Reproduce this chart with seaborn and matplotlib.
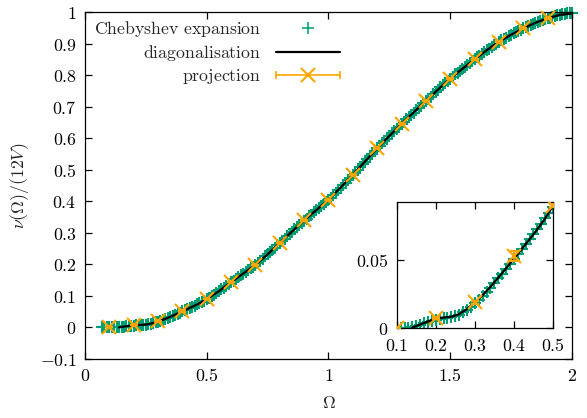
import numpy as np
import matplotlib
matplotlib.use("Agg")
import matplotlib.pyplot as plt
import seaborn as sns
from matplotlib.lines import Line2D
from matplotlib.legend_handler import HandlerLine2D, HandlerTuple

# ---- data ----
# Chebyshev expansion, sampled every 0.01
cheb_x = [0.07, 0.08, 0.09, 0.10, 0.11, 0.12, 0.13, 0.14, 0.15, 0.16, 0.17, 0.18, 0.19,
          0.20, 0.21, 0.22, 0.23, 0.24, 0.25, 0.26, 0.27, 0.28, 0.29, 0.30, 0.31, 0.32,
          0.33, 0.34, 0.35, 0.36, 0.37, 0.38, 0.39, 0.40, 0.41, 0.42, 0.43, 0.44, 0.45,
          0.46, 0.47, 0.48, 0.49, 0.50,
          0.51, 0.52, 0.53, 0.54, 0.55, 0.56, 0.57, 0.58, 0.59, 0.60,
          0.61, 0.62, 0.63, 0.64, 0.65, 0.66, 0.67, 0.68, 0.69, 0.70,
          0.71, 0.72, 0.73, 0.74, 0.75, 0.76, 0.77, 0.78, 0.79, 0.80,
          0.81, 0.82, 0.83, 0.84, 0.85, 0.86, 0.87, 0.88, 0.89, 0.90,
          0.91, 0.92, 0.93, 0.94, 0.95, 0.96, 0.97, 0.98, 0.99, 1.00,
          1.01, 1.02, 1.03, 1.04, 1.05, 1.06, 1.07, 1.08, 1.09, 1.10,
          1.11, 1.12, 1.13, 1.14, 1.15, 1.16, 1.17, 1.18, 1.19, 1.20,
          1.21, 1.22, 1.23, 1.24, 1.25, 1.26, 1.27, 1.28, 1.29, 1.30,
          1.31, 1.32, 1.33, 1.34, 1.35, 1.36, 1.37, 1.38, 1.39, 1.40,
          1.41, 1.42, 1.43, 1.44, 1.45, 1.46, 1.47, 1.48, 1.49, 1.50,
          1.51, 1.52, 1.53, 1.54, 1.55, 1.56, 1.57, 1.58, 1.59, 1.60,
          1.61, 1.62, 1.63, 1.64, 1.65, 1.66, 1.67, 1.68, 1.69, 1.70,
          1.71, 1.72, 1.73, 1.74, 1.75, 1.76, 1.77, 1.78, 1.79, 1.80,
          1.81, 1.82, 1.83, 1.84, 1.85, 1.86, 1.87, 1.88, 1.89, 1.90,
          1.91, 1.92, 1.93, 1.94, 1.95, 1.96, 1.97, 1.98, 1.99, 2.00]
cheb_y = [0.000, 0.000, 0.000, 0.000, 0.000, 0.0002, 0.0005, 0.001, 0.0018, 0.0027,
          0.0036, 0.0045, 0.0054, 0.0062, 0.0068, 0.0072, 0.0076, 0.0081, 0.0089,
          0.0100, 0.0117, 0.0137, 0.016, 0.0183, 0.0209, 0.0236, 0.0266, 0.0298,
          0.0331, 0.0366, 0.0401, 0.0437, 0.0473, 0.051, 0.0546, 0.0582, 0.0619,
          0.0655, 0.0692, 0.0730, 0.0769, 0.0809, 0.0850, 0.089,
          0.094, 0.099, 0.104, 0.110, 0.115, 0.121, 0.126, 0.132, 0.137, 0.143,
          0.148, 0.154, 0.159, 0.165, 0.170, 0.176, 0.181, 0.187, 0.192, 0.198,
          0.204, 0.211, 0.218, 0.225, 0.232, 0.239, 0.246, 0.253, 0.260, 0.267,
          0.274, 0.282, 0.289, 0.296, 0.303, 0.311, 0.318, 0.325, 0.332, 0.339,
          0.345, 0.352, 0.358, 0.365, 0.371, 0.378, 0.384, 0.391, 0.397, 0.404,
          0.411, 0.419, 0.427, 0.435, 0.443, 0.451, 0.459, 0.467, 0.475, 0.483,
          0.491, 0.500, 0.508, 0.517, 0.525, 0.534, 0.542, 0.551, 0.559, 0.568,
          0.576, 0.584, 0.591, 0.599, 0.607, 0.615, 0.622, 0.630, 0.637, 0.645,
          0.652, 0.660, 0.667, 0.674, 0.681, 0.689, 0.696, 0.703, 0.710, 0.718,
          0.725, 0.732, 0.739, 0.747, 0.754, 0.761, 0.768, 0.775, 0.782, 0.789,
          0.795, 0.802, 0.808, 0.814, 0.820, 0.826, 0.832, 0.838, 0.844, 0.850,
          0.856, 0.862, 0.867, 0.873, 0.878, 0.884, 0.889, 0.895, 0.900, 0.906,
          0.910, 0.915, 0.919, 0.924, 0.928, 0.932, 0.936, 0.940, 0.944, 0.948,
          0.951, 0.955, 0.958, 0.962, 0.965, 0.969, 0.972, 0.975, 0.977, 0.980,
          0.982, 0.985, 0.987, 0.989, 0.991, 0.993, 0.994, 0.996, 0.997, 0.998]

# exact diagonalisation
diag_x = [0.14, 0.16, 0.18, 0.20, 0.22, 0.24, 0.26, 0.28, 0.30, 0.32, 0.34, 0.36,
          0.38, 0.40, 0.42, 0.44, 0.46, 0.48, 0.50, 0.55, 0.60, 0.65, 0.70, 0.75,
          0.80, 0.85, 0.90, 0.95, 1.00, 1.05, 1.10, 1.15, 1.20, 1.25, 1.30, 1.35,
          1.40, 1.45, 1.50, 1.55, 1.60, 1.65, 1.70, 1.75, 1.80, 1.85, 1.90, 1.95,
          2.00]
diag_y = [0.0005, 0.0028, 0.005, 0.0072, 0.0079, 0.0085, 0.0104, 0.0142, 0.0188,
          0.0243, 0.0305, 0.0372, 0.0441, 0.0511, 0.0582, 0.0654, 0.0728, 0.0807,
          0.090, 0.115, 0.144, 0.171, 0.198, 0.232, 0.268, 0.304, 0.340, 0.372,
          0.405, 0.444, 0.484, 0.526, 0.568, 0.607, 0.645, 0.682, 0.718, 0.754,
          0.789, 0.820, 0.850, 0.879, 0.906, 0.928, 0.948, 0.966, 0.980, 0.991,
          0.995]

# projection with error bars
proj_x = [0.1, 0.2, 0.3, 0.4, 0.5, 0.6, 0.7, 0.8, 0.9, 1.0, 1.1, 1.2, 1.3, 1.4,
          1.5, 1.6, 1.7, 1.8, 1.9]
proj_y = [0.0, 0.0075, 0.019, 0.053, 0.090, 0.144, 0.198, 0.268, 0.340, 0.404,
          0.483, 0.569, 0.645, 0.718, 0.789, 0.850, 0.906, 0.948, 0.980]
proj_err = [0.0, 0.0008, 0.001, 0.0035, 0.001, 0.001, 0.001, 0.001, 0.001, 0.001,
            0.001, 0.001, 0.001, 0.001, 0.001, 0.001, 0.001, 0.001, 0.001]

main_xticks = [0, 0.5, 1, 1.5, 2]
main_xlabels = ["$0$", "$0.5$", "$1$", "$1.5$", "$2$"]
main_yticks = [-0.1, 0, 0.1, 0.2, 0.3, 0.4, 0.5, 0.6, 0.7, 0.8, 0.9, 1.0]
main_ylabels = ["$-0.1$", "$0$", "$0.1$", "$0.2$", "$0.3$", "$0.4$", "$0.5$",
                "$0.6$", "$0.7$", "$0.8$", "$0.9$", "$1$"]
ins_xticks = [0.1, 0.2, 0.3, 0.4, 0.5]
ins_xlabels = ["$0.1$", "$0.2$", "$0.3$", "$0.4$", "$0.5$"]
ins_yticks = [0, 0.05]
ins_ylabels = ["$0$", "$0.05$"]

GREEN = "#009e73"
ORANGE = "#ffa500"
FS = 12.8

sns.set_style("ticks")
plt.rcParams["mathtext.fontset"] = "cm"
plt.rcParams["font.family"] = ["DejaVu Serif"]
plt.rcParams["xtick.direction"] = "in"
plt.rcParams["ytick.direction"] = "in"
plt.rcParams["xtick.top"] = True
plt.rcParams["ytick.right"] = True
plt.rcParams["axes.edgecolor"] = "black"
plt.rcParams["axes.linewidth"] = 0.9


def draw(ax, inset=False):
    sns.scatterplot(x=cheb_x, y=cheb_y, ax=ax, marker="+", s=80, color=GREEN,
                    linewidth=1.5, zorder=2, clip_on=inset, legend=False)
    sns.lineplot(x=diag_x, y=diag_y, ax=ax, color="black", lw=1.6, zorder=3,
                 sort=False, estimator=None, legend=False)
    ax.errorbar(proj_x, proj_y, yerr=proj_err, fmt="x", color=ORANGE, ms=10,
                mew=1.5, elinewidth=1.2, capsize=3, capthick=1.2, zorder=4,
                clip_on=inset)


fig = plt.figure(figsize=(5.87, 4.18), dpi=100)
ax = fig.add_axes([0.1448, 0.1411, 0.8296, 0.8302])
draw(ax)
ax.set_xlim(0, 2)
ax.set_ylim(-0.1, 1.0)
ax.set_xticks(main_xticks, labels=main_xlabels)
ax.set_yticks(main_yticks, labels=main_ylabels)
ax.tick_params(length=5, width=0.9, labelsize=FS, colors="black", pad=6)
ax.set_xlabel(r"$\Omega$", fontsize=FS, labelpad=6)
ax.set_ylabel(r"$\nu(\Omega)/(12V)$", fontsize=FS, labelpad=6)

# legend, gnuplot style: text on the left, right-aligned
h_cheb = Line2D([], [], ls="none", marker="+", ms=8, mew=1.1, color=GREEN)
h_diag = Line2D([], [], color="black", lw=1.6)
h_bar = Line2D([], [], color=ORANGE, lw=1.2, marker="|", ms=6, mew=1.2)
h_x = Line2D([], [], ls="none", color=ORANGE, marker="x", ms=10, mew=1.5)
leg = ax.legend([h_cheb, h_diag, (h_bar, h_x)],
                [r"$\mathrm{Chebyshev\ expansion}$", r"$\mathrm{diagonalisation}$",
                 r"$\mathrm{projection}$"],
                handler_map={h_bar: HandlerLine2D(numpoints=2, marker_pad=0),
                             h_x: HandlerLine2D(numpoints=1),
                             tuple: HandlerTuple(ndivide=1)},
                loc="upper right", bbox_to_anchor=(0.5236, 0.98), frameon=False,
                markerfirst=False, handlelength=3.6, handletextpad=0.85,
                borderpad=0, borderaxespad=0, labelspacing=0.22, fontsize=FS)
for col in leg._legend_handle_box.get_children():
    col.align = "right"

# inset
axi = fig.add_axes([0.6758, 0.2146, 0.2663, 0.3029])
axi.set_facecolor("white")
draw(axi, inset=True)
axi.set_xlim(0.1, 0.5)
axi.set_ylim(0, 0.093)
axi.set_xticks(ins_xticks, labels=ins_xlabels)
axi.set_yticks(ins_yticks, labels=ins_ylabels)
axi.tick_params(length=5, width=0.9, labelsize=FS, colors="black", pad=6)

plt.savefig("out.png", dpi=100)
plt.close()
